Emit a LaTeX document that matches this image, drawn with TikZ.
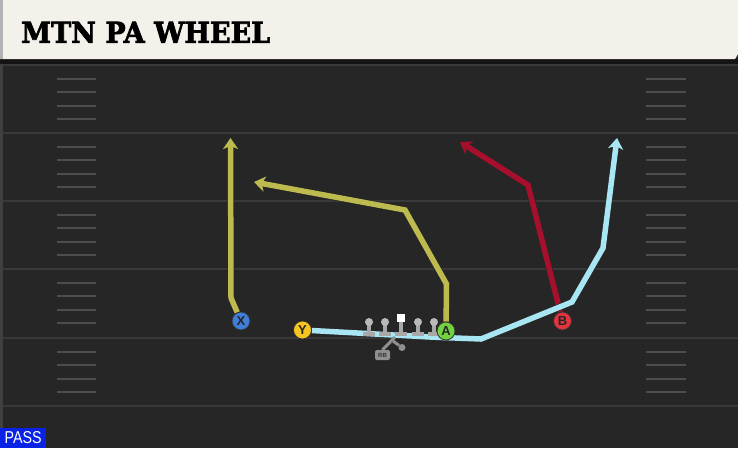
\documentclass[tikz,border=0pt]{standalone}
\usepackage{fontspec}
\usepackage{graphicx}
\setmainfont{Liberation Sans}
\newfontfamily\titlefont{DejaVu Serif}[BoldFont={DejaVu Serif Bold}, BoldFeatures={FakeBold=2.5}]
\usetikzlibrary{arrows.meta}
\definecolor{field}{HTML}{262626}
\definecolor{yardgray}{HTML}{393939}
\definecolor{cream}{HTML}{F4F1EA}
\definecolor{olive}{HTML}{BDBA50}
\definecolor{routeblue}{HTML}{A8E6F3}
\definecolor{routered}{HTML}{A6102D}
\definecolor{xblue}{HTML}{3F7FD8}
\definecolor{yyellow}{HTML}{F7C520}
\definecolor{agreen}{HTML}{72D23F}
\definecolor{bred}{HTML}{E3333D}
\definecolor{passblue}{HTML}{0A22E6}
\definecolor{lineman}{HTML}{A8A8A8}
\pgfdeclarelayer{bg}
\pgfdeclarelayer{routes}
\pgfsetlayers{bg,routes,main}
\tikzset{
  player/.style={circle, fill=#1, draw=black!80, line width=0.8pt, minimum size=18pt, inner sep=0pt,
    font=\bfseries\fontsize{13}{13}\selectfont, text=black!85},
  route/.style={line width=5.5pt, draw=#1, -{Stealth[length=11pt, width=15pt, inset=3pt]},
    preaction={draw=black!85, line width=6.9pt, -{Stealth[length=13pt, width=17.5pt, inset=3.5pt]}}},
  yardline/.style={draw=yardgray, line width=2pt},
  hashmark/.style={draw=yardgray!90!white, line width=1.5pt},
  olhead/.style={circle, fill=lineman!80!white, minimum size=8pt, inner sep=0pt},
  rbline/.style={draw=lineman!85!black, line width=3pt},
}
\begin{document}
\begin{tikzpicture}[x=1pt, y=-1pt]
    \useasboundingbox (0,0) rectangle (738,448);
    \begin{pgfonlayer}{bg}
        \fill[field] (0,0) rectangle (738,448);
        \fill[black!75] (0,59) rectangle (2.5,448);
        \foreach \y in {65,133,201,269,338,406}
            \draw[yardline] (2.5,\y) -- (738,\y);
        \foreach \y in {65,133,201,269,338}
            \foreach \k in {1,...,4} {
                \pgfmathsetmacro\hy{round(\y+\k*13.6)}
                \draw[hashmark] (57,\hy) -- (96,\hy);
                \draw[hashmark] (646,\hy) -- (686,\hy);
            }
        \fill[black!92] (0,59) rectangle (738,64);
        \fill[cream] (0,0) -- (738,0) -- (738,54) -- (735,59) -- (0,59) -- cycle;
        \fill[black!30] (0,0) rectangle (3,59);
    \end{pgfonlayer}

    \node[anchor=south west, inner sep=0pt] (title) at (21,43)
        {\resizebox{249pt}{21pt}{\titlefont\bfseries MTN PA WHEEL}};
    \node[anchor=south west, fill=passblue, minimum width=46pt, minimum height=20pt, inner sep=0pt,
        text=white] (pass) at (0,448) {\resizebox{37pt}{12pt}{PASS}};

    % offensive line
    \foreach \x [count=\i] in {369,385,418,434} {
        \fill[lineman] (\x-2,323) rectangle (\x+2,333);
        \fill[lineman] (\x-6,331.5) rectangle (\x+6,335.5);
        \node[olhead] (ol\i) at (\x,322) {};
    }
    \fill[lineman] (399,321) rectangle (403,333);
    \fill[lineman] (395,331.5) rectangle (407,335.5);
    \node[fill=white, minimum size=8.5pt, inner sep=0pt] (C) at (401,318) {};

    % running back
    \node[fill=lineman!85!black, rounded corners=2pt, minimum width=15pt, minimum height=10pt, inner sep=0pt,
        font=\bfseries\fontsize{6}{6}\selectfont, text=black!80] (RB) at (382.5,355) {RB};
    \node[circle, fill=lineman!85!black, minimum size=7pt, inner sep=0pt] (rbdot) at (402,347.5) {};
    \coordinate (rbtop) at (395,337);
    \coordinate (rbhand) at (393,341);
    \draw[rbline] (RB.north) -- (rbtop);
    \draw[rbline] (rbhand) -- (rbdot);

    \node[player=xblue] (X) at (241,321) {X};
    \node[player=yyellow] (Y) at (302.5,330) {Y};
    \node[player=agreen] (A) at (446,331) {A};
    \node[player=bred] (B) at (562.5,321) {B};

    \coordinate (x1) at (231,298);
    \coordinate (x2) at (230.5,138);
    \coordinate (a1) at (446.5,284);
    \coordinate (a2) at (405,210);
    \coordinate (a3) at (254,182);
    \coordinate (b1) at (528,185);
    \coordinate (b2) at (460,142);
    \coordinate (y1) at (430,337);
    \coordinate (y2) at (481,339);
    \coordinate (y3) at (572,302);
    \coordinate (y4) at (603,248);
    \coordinate (y5) at (617,138);

    \begin{pgfonlayer}{routes}
        \draw[route=olive] (X) -- (x1) -- (x2);
        \draw[route=olive] (A) -- (a1) -- (a2) -- (a3);
        \draw[route=routered] (B) -- (b1) -- (b2);
        \draw[route=routeblue] (Y) -- (y1) -- (y2) -- (y3) -- (y4) -- (y5);
    \end{pgfonlayer}
\end{tikzpicture}
\end{document}
